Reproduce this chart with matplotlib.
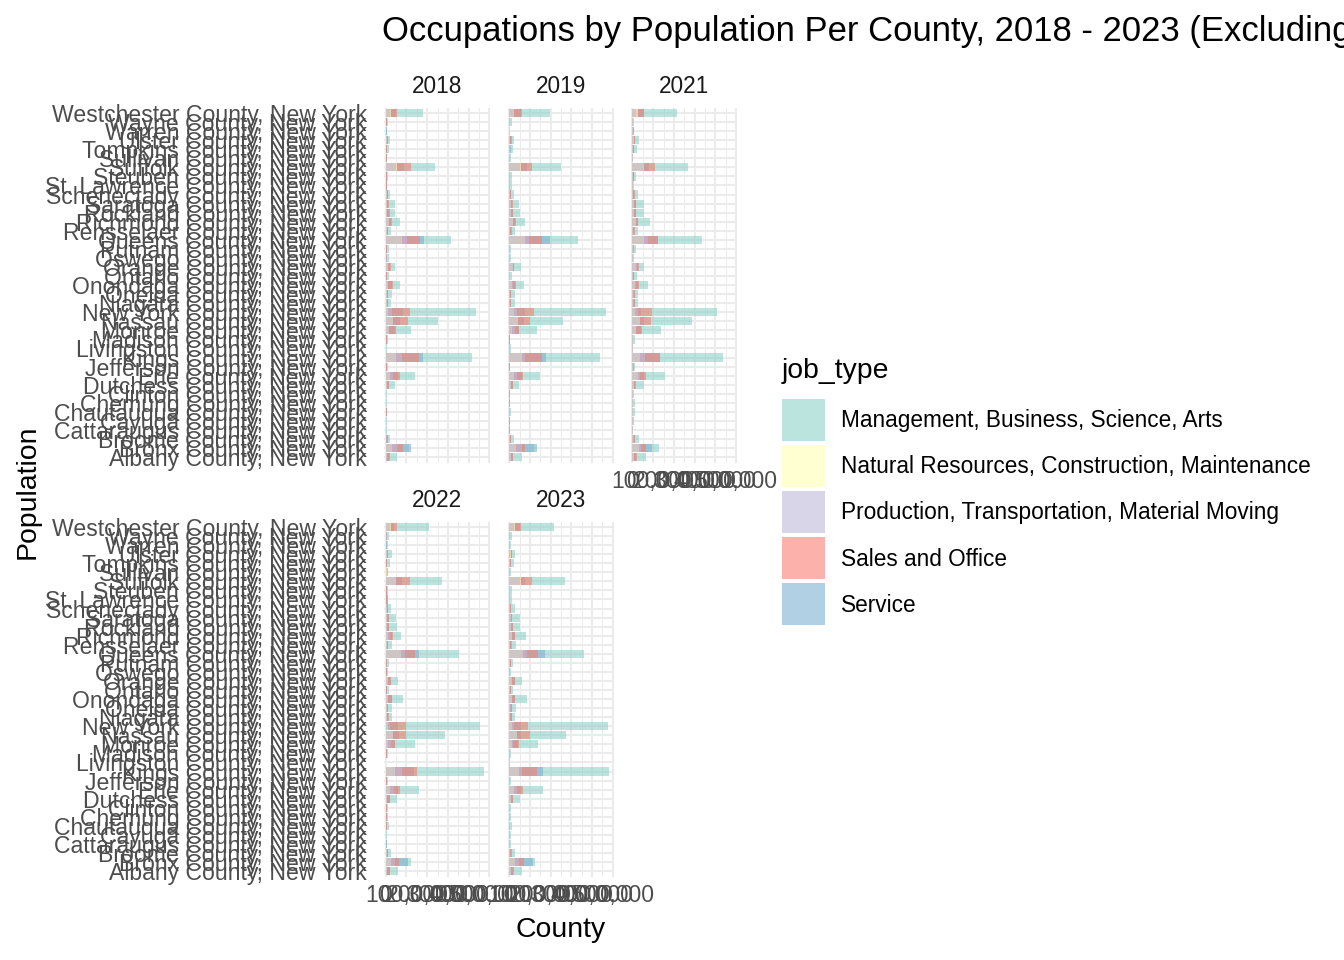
import numpy as np
import matplotlib
matplotlib.use("Agg")
import matplotlib.pyplot as plt
from matplotlib.patches import Rectangle
from matplotlib.ticker import MultipleLocator, FuncFormatter

plt.rcParams['font.family'] = ['Liberation Sans', 'DejaVu Sans']

# counties, bottom to top (ggplot puts the first level at the bottom after coord_flip)
counties = ["Albany", "Bronx", "Broome", "Cattaraugus", "Cayuga", "Chautauqua", "Chemung",
            "Clinton", "Dutchess", "Erie", "Jefferson", "Kings", "Livingston", "Madison",
            "Monroe", "Nassau", "New York", "Niagara", "Oneida", "Onondaga", "Ontario",
            "Orange", "Oswego", "Putnam", "Queens", "Rensselaer", "Richmond", "Rockland",
            "Saratoga", "Schenectady", "St. Lawrence", "Steuben", "Suffolk", "Sullivan",
            "Tompkins", "Ulster", "Warren", "Wayne", "Westchester"]
county_labels = [c + " County, New York" for c in counties]

years = [2018, 2019, 2021, 2022, 2023]
job_types = ["Management, Business, Science, Arts",
             "Natural Resources, Construction, Maintenance",
             "Production, Transportation, Material Moving",
             "Sales and Office",
             "Service"]
colors = ["#8DD3C7", "#FFFFB3", "#BEBADA", "#FB8072", "#80B1D3"]

# values in thousands of people
mgmt_2018 = [53.4, 113.1, 20.9, 4.9, 4.9, 8.3, 6.3, 4.9, 45.1, 142.2, 9.7, 418.9, 4.9, 9.7, 122.8, 253.9, 438.3, 25.7, 30.6, 69.4, 14.6, 45.1, 14.6, 14.6, 317.0, 25.7, 69.4, 45.1, 45.1, 20.9, 8.3, 9.7, 239.3, 4.9, 16.0, 20.9, 3.9, 9.7, 181.0]
natres_2018 = [7.3, 30.6, 3.4, 1.5, 1.5, 1.9, 1.5, 1.5, 7.3, 20.9, 2.9, 50.0, 1.5, 2.4, 14.6, 37.4, 13.1, 4.9, 4.9, 13.1, 2.9, 13.1, 3.4, 3.4, 79.1, 4.4, 16.0, 7.3, 7.3, 3.9, 2.4, 2.9, 53.4, 2.4, 2.4, 5.8, 1.9, 2.9, 25.7]
prod_2018 = [7.3, 54.9, 4.9, 1.9, 1.9, 2.9, 1.9, 1.5, 7.3, 37.4, 2.4, 79.1, 1.5, 2.4, 16.0, 37.4, 32.5, 6.3, 6.3, 13.1, 2.9, 13.1, 4.4, 2.4, 103.4, 4.9, 16.0, 7.3, 6.3, 4.9, 2.4, 3.4, 50.0, 1.9, 2.4, 4.9, 1.9, 2.9, 20.9]
sales_2018 = [20.9, 84.0, 9.7, 1.9, 2.4, 3.9, 2.9, 2.4, 17.0, 69.4, 4.4, 161.6, 2.4, 3.9, 50.0, 108.2, 118.0, 11.2, 9.7, 35.4, 6.3, 25.7, 5.8, 6.3, 166.5, 9.7, 30.6, 20.9, 16.0, 9.7, 3.9, 4.9, 122.8, 3.9, 5.8, 11.2, 2.9, 4.9, 53.4]
serv_2018 = [17.0, 122.8, 8.7, 2.4, 2.4, 3.9, 2.9, 2.9, 16.0, 58.2, 4.9, 181.0, 2.4, 3.9, 43.7, 69.4, 81.1, 9.7, 9.7, 29.1, 4.9, 21.8, 5.8, 4.9, 185.9, 8.7, 26.7, 17.0, 12.1, 8.7, 4.9, 4.4, 85.9, 6.3, 6.3, 9.7, 4.9, 3.9, 51.0]

mgmt_2019 = [63.1, 121.4, 24.3, 4.9, 6.3, 8.3, 6.3, 6.3, 48.5, 150.5, 4.9, 436.9, 8.3, 4.9, 135.9, 262.1, 466.0, 27.7, 27.7, 72.8, 16.0, 58.2, 8.3, 9.7, 334.9, 29.1, 77.7, 53.4, 48.5, 22.8, 13.1, 13.1, 252.4, 8.3, 19.4, 22.8, 6.3, 13.1, 199.0]
natres_2019 = [7.3, 34.0, 3.9, 1.5, 1.5, 1.9, 1.5, 1.5, 7.8, 24.3, 1.5, 63.1, 1.9, 1.5, 14.6, 41.3, 24.3, 4.9, 4.9, 14.6, 2.9, 16.5, 2.4, 2.9, 77.7, 4.9, 17.0, 7.8, 7.8, 3.9, 2.9, 2.9, 54.9, 2.4, 2.4, 5.8, 1.9, 2.9, 21.8]
prod_2019 = [7.8, 63.1, 4.9, 1.9, 1.9, 2.9, 1.9, 1.9, 7.8, 38.8, 1.5, 77.7, 1.9, 1.5, 29.1, 42.2, 38.8, 6.3, 6.3, 18.0, 2.9, 18.0, 2.9, 1.9, 97.1, 4.9, 18.0, 7.3, 7.3, 4.9, 2.4, 3.4, 51.0, 1.9, 2.4, 4.9, 1.5, 3.4, 24.3]
sales_2019 = [19.4, 77.7, 10.7, 1.9, 2.9, 3.9, 2.9, 2.4, 19.4, 68.0, 2.4, 160.2, 3.4, 2.4, 48.5, 102.0, 121.4, 11.2, 10.7, 34.0, 6.3, 22.8, 3.9, 4.4, 160.2, 14.6, 34.0, 19.4, 19.4, 9.7, 4.9, 4.9, 111.6, 3.9, 5.8, 13.1, 2.9, 4.9, 63.1]
serv_2019 = [17.5, 135.9, 9.7, 2.4, 2.9, 3.9, 2.9, 2.9, 17.5, 60.7, 2.9, 179.6, 3.4, 2.4, 46.1, 72.8, 77.7, 10.7, 9.7, 29.1, 5.3, 21.8, 3.9, 3.9, 199.0, 10.7, 29.1, 17.5, 14.6, 8.7, 5.8, 4.9, 85.9, 3.9, 6.8, 11.2, 2.9, 4.9, 58.2]

mgmt_2021 = [66.5, 129.6, 32.5, 4.9, 9.7, 13.1, 11.2, 9.7, 56.8, 158.7, 13.1, 435.4, 4.9, 13.1, 139.3, 289.8, 406.3, 27.7, 29.1, 76.2, 22.8, 56.8, 9.7, 16.0, 338.3, 27.7, 85.9, 53.4, 53.4, 27.7, 9.7, 16.0, 270.4, 4.9, 22.8, 32.5, 8.7, 9.7, 217.0]
natres_2021 = [7.8, 34.0, 4.4, 1.5, 1.9, 2.4, 1.9, 1.9, 7.3, 27.7, 2.9, 38.8, 1.0, 2.4, 16.0, 38.8, 14.6, 4.9, 4.9, 14.6, 3.9, 19.4, 2.4, 3.9, 56.8, 4.4, 17.0, 7.8, 7.8, 4.4, 1.9, 2.9, 58.2, 1.5, 2.4, 7.3, 2.4, 2.4, 29.1]
prod_2021 = [7.8, 43.7, 5.8, 1.9, 2.4, 2.9, 2.4, 2.4, 7.3, 37.4, 2.4, 61.6, 1.5, 2.9, 19.4, 38.8, 29.1, 6.3, 6.3, 19.4, 3.9, 22.8, 2.9, 2.4, 72.8, 4.9, 19.4, 7.3, 7.3, 4.9, 2.4, 3.9, 53.4, 1.5, 2.4, 6.3, 1.9, 2.9, 19.4]
sales_2021 = [22.8, 66.5, 13.1, 1.9, 3.9, 4.9, 4.4, 3.9, 16.0, 66.5, 4.9, 134.5, 1.9, 4.9, 47.1, 90.8, 95.6, 11.2, 11.2, 32.5, 8.7, 30.6, 3.9, 6.3, 124.7, 10.7, 29.1, 19.4, 19.4, 10.7, 3.9, 5.8, 106.8, 1.9, 6.8, 14.6, 3.9, 3.9, 58.2]
serv_2021 = [19.4, 95.6, 12.1, 2.4, 3.9, 4.9, 4.4, 3.9, 14.6, 58.2, 5.3, 131.0, 1.9, 4.9, 43.7, 56.8, 43.7, 10.7, 11.2, 29.1, 7.8, 26.7, 3.9, 4.9, 121.4, 9.7, 26.7, 17.5, 15.5, 9.7, 3.9, 5.8, 77.7, 2.4, 7.3, 12.6, 9.7, 3.9, 53.4]

mgmt_2022 = [59.7, 122.8, 25.7, 4.9, 6.3, 16.0, 11.2, 11.2, 54.9, 161.6, 11.2, 472.3, 2.4, 11.2, 142.2, 287.8, 452.9, 30.6, 30.6, 84.0, 16.0, 59.7, 11.2, 16.0, 355.8, 30.6, 74.3, 54.9, 50.0, 25.7, 8.7, 9.7, 273.3, 7.8, 20.9, 30.6, 9.7, 16.0, 210.2]
natres_2022 = [7.3, 25.7, 3.9, 1.5, 1.5, 2.9, 2.4, 2.4, 7.3, 20.9, 2.4, 45.1, 0.5, 2.4, 11.2, 35.4, 11.2, 5.8, 4.9, 11.2, 2.9, 11.2, 2.4, 3.4, 74.3, 4.9, 11.2, 7.3, 7.3, 3.9, 1.9, 2.4, 50.0, 4.9, 2.9, 6.3, 1.9, 2.9, 26.7]
prod_2022 = [7.3, 45.1, 4.9, 1.9, 1.9, 3.4, 2.9, 2.4, 7.3, 40.3, 2.4, 79.1, 0.5, 2.4, 25.7, 35.4, 20.9, 6.3, 6.3, 11.2, 2.9, 11.2, 2.4, 1.9, 93.7, 4.9, 20.9, 7.3, 6.3, 4.9, 1.9, 2.9, 50.0, 2.9, 2.9, 5.8, 1.9, 3.9, 20.9]
sales_2022 = [20.9, 64.6, 11.2, 1.9, 2.9, 6.3, 4.9, 4.4, 20.9, 69.4, 4.4, 151.9, 1.0, 4.4, 45.1, 98.5, 98.5, 16.0, 11.2, 30.6, 6.3, 25.7, 4.4, 6.3, 142.2, 11.2, 35.4, 16.0, 16.0, 10.7, 3.9, 4.4, 118.0, 9.7, 6.3, 12.6, 3.4, 6.3, 53.4]
serv_2022 = [18.4, 108.2, 9.7, 6.3, 2.9, 6.3, 4.9, 4.9, 19.4, 58.2, 4.9, 137.4, 1.5, 4.9, 43.7, 64.6, 59.7, 12.1, 12.1, 28.2, 6.3, 24.3, 4.9, 6.3, 161.6, 11.2, 31.6, 16.0, 14.6, 9.7, 9.7, 4.9, 79.1, 4.9, 6.3, 12.1, 4.9, 5.8, 40.3]

mgmt_2023 = [63.1, 126.2, 29.1, 9.7, 9.7, 14.6, 9.7, 9.7, 53.4, 165.0, 9.7, 480.5, 2.4, 9.7, 140.8, 276.7, 475.7, 29.1, 34.0, 87.4, 19.4, 63.1, 9.7, 19.4, 359.2, 34.0, 82.5, 53.4, 53.4, 29.1, 14.6, 14.6, 271.8, 9.7, 24.3, 29.1, 9.7, 14.6, 218.4]
natres_2023 = [7.3, 29.1, 4.9, 1.9, 1.9, 2.9, 2.4, 2.4, 7.3, 24.3, 2.4, 48.5, 0.5, 2.4, 14.6, 38.8, 14.6, 5.8, 5.8, 14.6, 3.4, 14.6, 2.4, 3.9, 68.0, 4.9, 14.6, 7.8, 7.8, 4.9, 2.9, 2.9, 58.2, 2.9, 2.9, 7.3, 2.4, 2.9, 26.7]
prod_2023 = [7.3, 48.5, 5.8, 2.4, 2.4, 3.4, 2.4, 2.4, 7.3, 38.8, 2.4, 63.1, 0.5, 2.4, 19.4, 38.8, 24.3, 6.3, 7.3, 14.6, 3.9, 14.6, 2.9, 2.4, 87.4, 4.9, 14.6, 7.3, 6.8, 4.9, 2.9, 3.9, 53.4, 2.4, 2.9, 6.3, 1.9, 3.4, 24.3]
sales_2023 = [24.3, 72.8, 14.6, 3.9, 3.9, 6.3, 4.9, 4.4, 19.4, 68.0, 4.4, 135.9, 1.0, 3.9, 48.5, 102.0, 92.2, 14.6, 14.6, 29.1, 7.8, 29.1, 4.4, 7.3, 140.8, 9.7, 29.1, 19.4, 14.6, 9.7, 5.8, 5.3, 111.6, 4.4, 8.7, 14.6, 4.4, 5.3, 58.2]
serv_2023 = [19.4, 116.5, 11.2, 3.9, 3.9, 5.8, 4.4, 4.4, 18.4, 58.2, 4.4, 165.0, 1.0, 3.9, 43.7, 58.2, 58.2, 11.7, 13.6, 28.2, 7.8, 26.7, 4.4, 7.3, 174.7, 12.1, 26.7, 17.5, 16.0, 11.2, 5.8, 5.3, 77.7, 4.4, 8.7, 12.1, 4.4, 5.3, 53.4]

data = {
    2018: [mgmt_2018, natres_2018, prod_2018, sales_2018, serv_2018],
    2019: [mgmt_2019, natres_2019, prod_2019, sales_2019, serv_2019],
    2021: [mgmt_2021, natres_2021, prod_2021, sales_2021, serv_2021],
    2022: [mgmt_2022, natres_2022, prod_2022, sales_2022, serv_2022],
    2023: [mgmt_2023, natres_2023, prod_2023, sales_2023, serv_2023],
}
# bars overlap (position identity), drawn in the order the rows came in
draw_order = [0, 4, 3, 1, 2]

W, H = 1344, 960
fig = plt.figure(figsize=(W / 100, H / 100), dpi=100)

col_left = [384.3, 507.7, 631.0]
row_top = [107.6, 521.6]
pw, ph = 106.0, 355.0

tick_fs = 16.6
grey30 = "#4D4D4D"
y = np.arange(len(counties))

for k, yr in enumerate(years):
    r, c = divmod(k, 3)
    ax = fig.add_axes([col_left[c] / W, 1 - (row_top[r] + ph) / H, pw / W, ph / H])
    ax.set_facecolor("none")
    for j in draw_order:
        vals = np.array(data[yr][j]) * 1000
        ax.barh(y, vals, height=0.9, color=colors[j], alpha=0.6, linewidth=0, zorder=2)
    ax.set_xlim(-7000, 505000)
    ax.set_ylim(-0.6, len(counties) - 0.4)
    ax.xaxis.set_major_locator(MultipleLocator(100000))
    ax.xaxis.set_minor_locator(MultipleLocator(50000))
    ax.xaxis.set_major_formatter(FuncFormatter(lambda v, p: f"{int(round(v)):,}"))
    ax.set_yticks(y)
    ax.set_yticklabels(county_labels)
    ax.grid(which="major", color="#EBEBEB", linewidth=1.45, zorder=0)
    ax.grid(which="minor", axis="x", color="#EBEBEB", linewidth=0.72, zorder=0)
    ax.set_axisbelow(True)
    for s in ax.spines.values():
        s.set_visible(False)
    ax.tick_params(which="both", length=0)
    ax.tick_params(axis="y", pad=12.7, labelsize=tick_fs, labelcolor=grey30)
    ax.tick_params(axis="x", pad=5.5, labelsize=tick_fs, labelcolor=grey30)
    show_x = (r == 1) or (c == 2)
    ax.tick_params(labelbottom=show_x, labelleft=(c == 0))
    # strip label
    fig.text((col_left[c] + pw / 2) / W, 1 - (row_top[r] - 21) / H, str(yr),
             ha="center", va="center", fontsize=16.3, color="#1A1A1A")

# overlay in pixel coordinates for titles and legend
ov = fig.add_axes([0, 0, 1, 1])
ov.set_xlim(0, W)
ov.set_ylim(H, 0)
ov.axis("off")

ov.text(382, 31, "Occupations by Population Per County, 2018 - 2023 (Excluding 2020)",
        ha="left", va="center", fontsize=24.9, color="black", clip_on=False)
ov.text(28, 492, "Population", rotation=90, ha="center", va="center", fontsize=20.4)
ov.text(561, 930, "County", ha="center", va="center", fontsize=20.4)

ov.text(782, 371, "job_type", ha="left", va="center", fontsize=20.4)
for k, (lab, col) in enumerate(zip(job_types, colors)):
    top = 399 + 46 * k
    ov.add_patch(Rectangle((782, top), 43, 42, facecolor=col, alpha=0.6, linewidth=0))
    ov.text(841, top + 22, lab, ha="left", va="center", fontsize=16.3)

fig.savefig("out.png", dpi=100)
